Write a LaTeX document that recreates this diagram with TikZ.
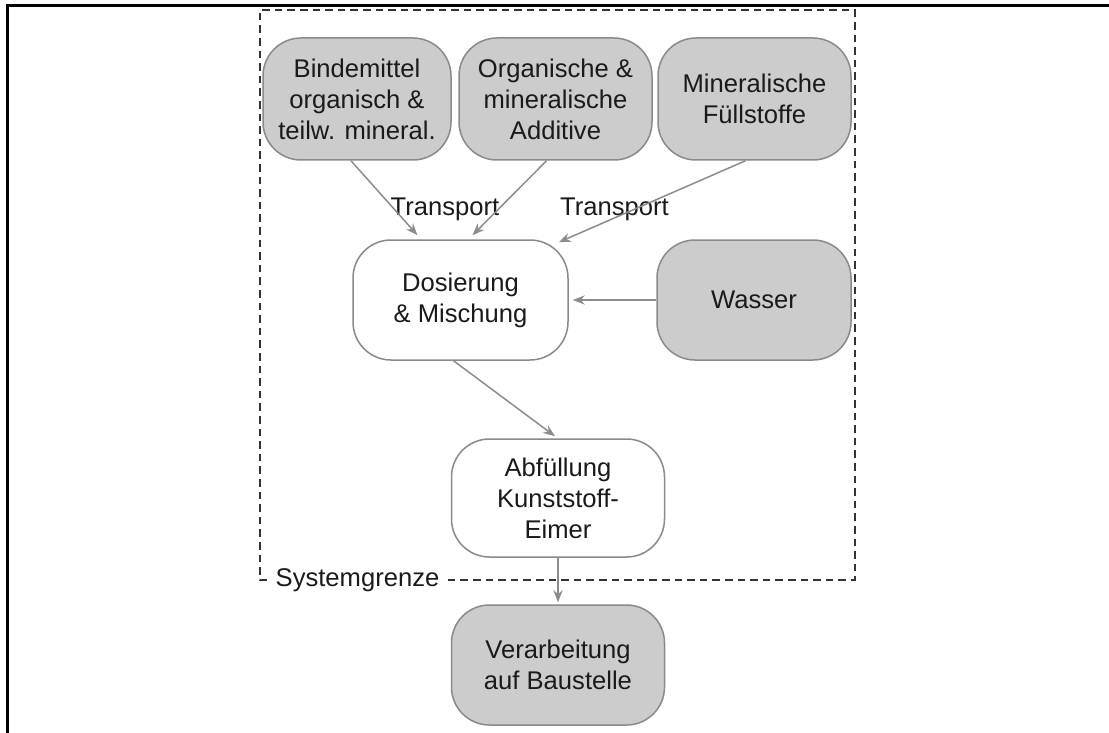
\documentclass[tikz,border=0pt]{standalone}
\usepackage{fontspec}
\setmainfont{Liberation Sans}
\usetikzlibrary{calc,arrows.meta}
\definecolor{boxfill}{HTML}{CCCCCC}
\definecolor{edge}{HTML}{8A8A8A}
\definecolor{arrowgray}{HTML}{8C8C8C}
\definecolor{ink}{HTML}{1A1A1A}
\definecolor{limit}{HTML}{333333}

\begin{document}
\begin{tikzpicture}[x=0.5pt,y=-0.5pt,
  font=\fontsize{12.8}{15.5}\selectfont,text=ink,
  box/.style={draw=edge,line width=0.75pt,rounded corners=19pt,align=center,inner sep=0pt},
  greybox/.style={box,fill=boxfill},
  plainbox/.style={box,fill=white},
  flow/.style={arrowgray,line width=0.75pt,-{Stealth[length=6pt,width=4.6pt]}},
  border/.style={limit,line width=0.6pt,dash pattern=on 3.8pt off 2.5pt}]
  \useasboundingbox (0,0) rectangle (1109,733);
  \draw[line width=1.5pt] (7,733)--(7,6)--(1109,6);
  % inputs
  \node[greybox,minimum width=94pt,minimum height=61pt] (bindemittel) at (357,99)
       {Bindemittel\\organisch \&\\teilw. mineral.};
  \node[greybox,minimum width=96.5pt,minimum height=61pt] (additive) at (555.5,99)
       {Organische \&\\mineralische\\Additive};
  \node[greybox,minimum width=96.5pt,minimum height=61pt] (fuellstoffe) at (754.5,99)
       {Mineralische\\Füllstoffe};
  \node[greybox,minimum width=97pt,minimum height=60pt] (wasser) at (754,300) {Wasser};
  % process
  \node[plainbox,minimum width=107.5pt,minimum height=60pt] (dosierung) at (460.5,300)
       {Dosierung\\\& Mischung};
  \node[plainbox,minimum width=106.5pt,minimum height=59pt] (abfuellung) at (558,498)
       {Abfüllung\\Kunststoff-\\Eimer};
  \node[greybox,minimum width=106.5pt,minimum height=60pt] (verarbeitung) at (558,665)
       {Verarbeitung\\auf Baustelle};
  \node (transportA) at (445,209) {Transport};
  \node (transportB) at (614.5,209) {Transport};
  % system boundary
  \node[inner xsep=4pt,inner ysep=0pt] (grenze) at (357.5,580) {Systemgrenze};
  \draw[border] (grenze.east)--(855,580)--(855,10)--(260,10)--(260,580)--(grenze.west);
  % flows
  \draw[flow] ($(bindemittel.south)+(-6,0)$)--($(dosierung.north)+(-43,-4)$);
  \draw[flow] ($(additive.south)+(-9,0)$)--($(dosierung.north)+(12,-4)$);
  \draw[flow] ($(fuellstoffe.south)+(-9,0)$)--($(dosierung.north east)+(-10,3)$);
  \draw[flow] (wasser.west)--($(dosierung.east)+(4,0)$);
  \draw[flow] ($(dosierung.south)+(-7,0)$)--($(abfuellung.north)+(-3,-2)$);
  \draw[flow] (abfuellung.south)--($(verarbeitung.north)+(0,-2)$);
\end{tikzpicture}
\end{document}
